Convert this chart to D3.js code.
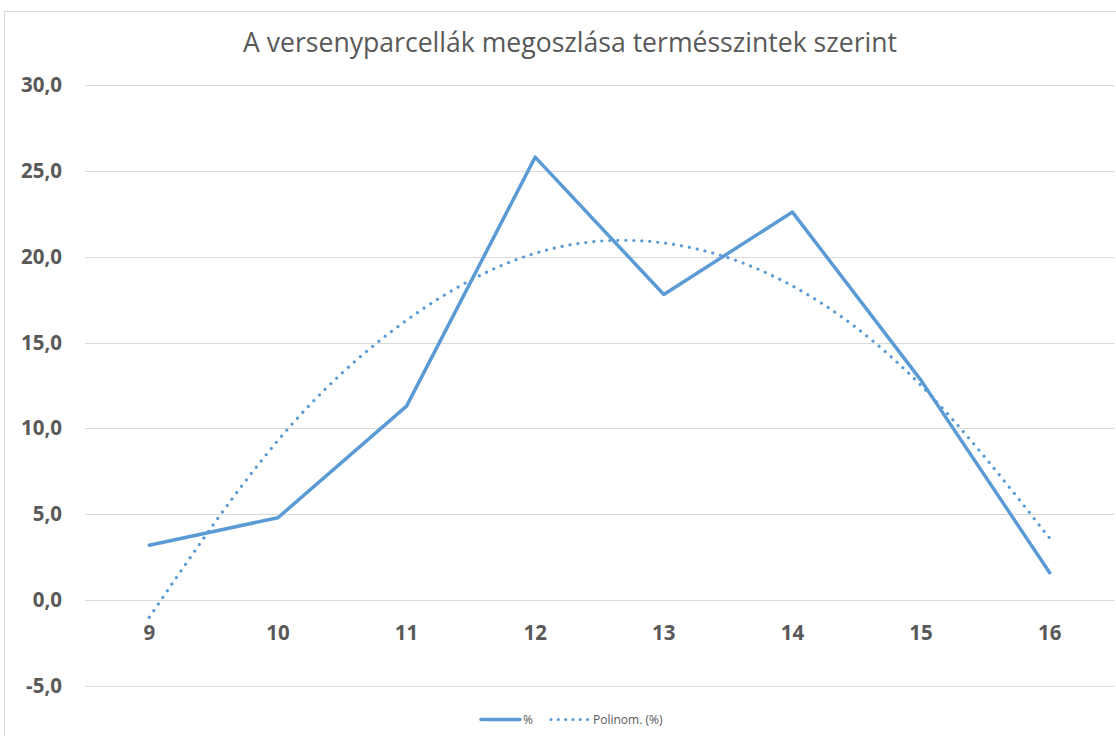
<!DOCTYPE html>
<html>
<head>
<meta charset="utf-8">
<script src="https://cdn.jsdelivr.net/npm/d3@7"></script>
<style>
  body { margin: 0; background: #fff; }
  svg { display: block; }
</style>
</head>
<body>
<script>
  const categories = ["9", "10", "11", "12", "13", "14", "15", "16"];
  const percent = [3.2, 4.8, 11.3, 25.8, 17.8, 22.6, 12.8, 1.6];
  const trend = [-1.0, 9.3, 16.3, 20.2, 20.8, 18.3, 12.5, 3.6];
  const yTicks = [-5, 0, 5, 10, 15, 20, 25, 30];

  const width = 1116;
  const height = 736;
  const blue = "#5B9BD5";
  const grey = "#595959";

  const svg = d3
    .select("body")
    .append("svg")
    .attr("width", width)
    .attr("height", height);

  // chart frame (only the left and top edges are visible)
  svg.append("path")
    .attr("d", "M4.5,736 V11.5 H1116")
    .attr("fill", "none")
    .attr("stroke", "#D9D9D9")
    .attr("stroke-width", 1);

  var x = d3.scaleBand().domain(categories).range([85, 1114]).padding(0);
  var y = d3.scaleLinear().domain([-5, 30]).range([686, 85]);

  // gridlines
  svg.selectAll(".grid")
    .data(yTicks)
    .enter()
    .append("line")
    .attr("class", "grid")
    .attr("x1", 85)
    .attr("x2", 1114)
    .attr("y1", d => Math.round(y(d)) + 0.5)
    .attr("y2", d => Math.round(y(d)) + 0.5)
    .attr("stroke", "#D9D9D9")
    .attr("stroke-width", 1);

  // y axis labels
  const yAxis = d3.axisLeft(y)
    .tickValues(yTicks)
    .tickSize(0)
    .tickPadding(0)
    .tickFormat(d => d3.format(".1f")(d).replace(".", ",").replace("−", "-"));

  svg.append("g")
    .attr("transform", "translate(62,0)")
    .call(yAxis)
    .call(g => g.select(".domain").remove())
    .selectAll("text")
    .attr("font-family", "Open Sans, sans-serif")
    .attr("font-weight", "bold")
    .attr("font-size", 20.5)
    .attr("fill", grey);

  // x axis labels, sitting under the zero line
  const xAxis = d3.axisBottom(x).tickSize(0).tickPadding(0);
  svg.append("g")
    .attr("transform", `translate(0,${y(0) + 40})`)
    .call(xAxis)
    .call(g => g.select(".domain").remove())
    .selectAll("text")
    .attr("dy", null)
    .attr("font-family", "Open Sans, sans-serif")
    .attr("font-weight", "bold")
    .attr("font-size", 20.5)
    .attr("fill", grey);

  const cx = d => x(d) + x.bandwidth() / 2;

  // polynomial trendline (dotted)
  const trendLine = d3.line()
    .x((d, i) => cx(categories[i]))
    .y(d => y(d))
    .curve(d3.curveNatural);

  svg.append("path")
    .datum(trend)
    .attr("d", trendLine)
    .attr("fill", "none")
    .attr("stroke", blue)
    .attr("stroke-width", 3.2)
    .attr("stroke-linecap", "round")
    .attr("stroke-dasharray", "0.01 8");

  // main series
  const mainLine = d3.line()
    .x((d, i) => cx(categories[i]))
    .y(d => y(d));

  svg.append("path")
    .datum(percent)
    .attr("d", mainLine)
    .attr("fill", "none")
    .attr("stroke", blue)
    .attr("stroke-width", 3.5)
    .attr("stroke-linecap", "round")
    .attr("stroke-linejoin", "round");

  // title
  svg.append("text")
    .attr("x", 570)
    .attr("y", 52)
    .attr("text-anchor", "middle")
    .attr("font-family", "Open Sans, sans-serif")
    .attr("font-size", 27)
    .attr("fill", grey)
    .attr("textLength", 654)
    .attr("lengthAdjust", "spacingAndGlyphs")
    .text("A versenyparcellák megoszlása termésszintek szerint");

  // legend
  const legend = svg.append("g").attr("font-family", "Open Sans, sans-serif").attr("font-size", 12).attr("fill", grey);
  legend.append("line")
    .attr("x1", 481).attr("x2", 520).attr("y1", 719.5).attr("y2", 719.5)
    .attr("stroke", blue).attr("stroke-width", 3.5).attr("stroke-linecap", "round");
  legend.append("text").attr("x", 523).attr("y", 724).text("%");
  legend.append("line")
    .attr("x1", 551).attr("x2", 588).attr("y1", 719.5).attr("y2", 719.5)
    .attr("stroke", blue).attr("stroke-width", 3.2).attr("stroke-linecap", "round")
    .attr("stroke-dasharray", "0.01 7.3");
  legend.append("text").attr("x", 593).attr("y", 724).text("Polinom. (%)");
</script>
</body>
</html>
